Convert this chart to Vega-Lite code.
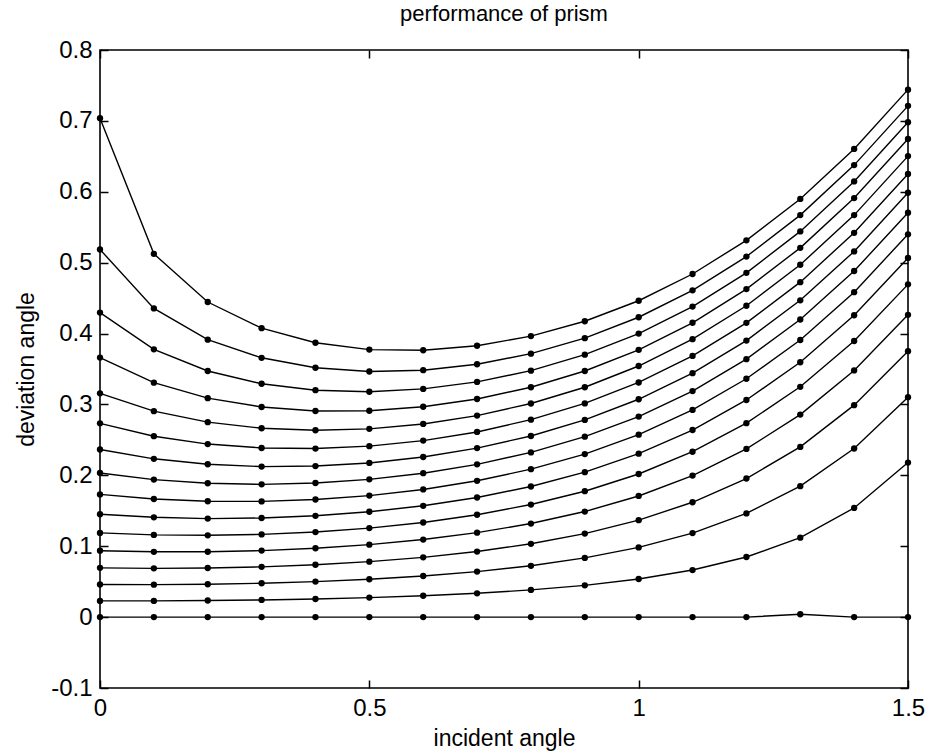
{
  "$schema": "https://vega.github.io/schema/vega-lite/v6.json",
  "width": 808,
  "height": 638,
  "autosize": {"type": "none"},
  "padding": {"left": 100, "top": 50, "right": 21, "bottom": 65},
  "title": {"text": "performance of prism", "font": "Liberation Sans", "fontSize": 22, "fontWeight": "normal", "color": "#000", "baseline": "alphabetic", "offset": -5},
  "data": {"values": [
    {"curve":0,"incident":0,"deviation":0},{"curve":0,"incident":0.1,"deviation":0},{"curve":0,"incident":0.2,"deviation":0},{"curve":0,"incident":0.3,"deviation":0},{"curve":0,"incident":0.4,"deviation":0},{"curve":0,"incident":0.5,"deviation":0},{"curve":0,"incident":0.6,"deviation":0},{"curve":0,"incident":0.7,"deviation":0},{"curve":0,"incident":0.8,"deviation":0},{"curve":0,"incident":0.9,"deviation":0},{"curve":0,"incident":1.0,"deviation":0},{"curve":0,"incident":1.1,"deviation":0},{"curve":0,"incident":1.2,"deviation":0},{"curve":0,"incident":1.3,"deviation":0.004},{"curve":0,"incident":1.4,"deviation":0},{"curve":0,"incident":1.5,"deviation":0},
    {"curve":1,"incident":0,"deviation":0.0229},{"curve":1,"incident":0.1,"deviation":0.0229},{"curve":1,"incident":0.2,"deviation":0.0234},{"curve":1,"incident":0.3,"deviation":0.0242},{"curve":1,"incident":0.4,"deviation":0.0256},{"curve":1,"incident":0.5,"deviation":0.0275},{"curve":1,"incident":0.6,"deviation":0.0301},{"curve":1,"incident":0.7,"deviation":0.0336},{"curve":1,"incident":0.8,"deviation":0.0384},{"curve":1,"incident":0.9,"deviation":0.0448},{"curve":1,"incident":1.0,"deviation":0.0538},{"curve":1,"incident":1.1,"deviation":0.0664},{"curve":1,"incident":1.2,"deviation":0.0848},{"curve":1,"incident":1.3,"deviation":0.1121},{"curve":1,"incident":1.4,"deviation":0.154},{"curve":1,"incident":1.5,"deviation":0.218},
    {"curve":2,"incident":0,"deviation":0.046},{"curve":2,"incident":0.1,"deviation":0.0458},{"curve":2,"incident":0.2,"deviation":0.0464},{"curve":2,"incident":0.3,"deviation":0.0478},{"curve":2,"incident":0.4,"deviation":0.0501},{"curve":2,"incident":0.5,"deviation":0.0534},{"curve":2,"incident":0.6,"deviation":0.058},{"curve":2,"incident":0.7,"deviation":0.0642},{"curve":2,"incident":0.8,"deviation":0.0724},{"curve":2,"incident":0.9,"deviation":0.0835},{"curve":2,"incident":1.0,"deviation":0.0983},{"curve":2,"incident":1.1,"deviation":0.1185},{"curve":2,"incident":1.2,"deviation":0.1463},{"curve":2,"incident":1.3,"deviation":0.1847},{"curve":2,"incident":1.4,"deviation":0.2379},{"curve":2,"incident":1.5,"deviation":0.3103},
    {"curve":3,"incident":0,"deviation":0.0695},{"curve":3,"incident":0.1,"deviation":0.0688},{"curve":3,"incident":0.2,"deviation":0.0693},{"curve":3,"incident":0.3,"deviation":0.0709},{"curve":3,"incident":0.4,"deviation":0.0739},{"curve":3,"incident":0.5,"deviation":0.0782},{"curve":3,"incident":0.6,"deviation":0.0843},{"curve":3,"incident":0.7,"deviation":0.0925},{"curve":3,"incident":0.8,"deviation":0.1034},{"curve":3,"incident":0.9,"deviation":0.1178},{"curve":3,"incident":1.0,"deviation":0.1368},{"curve":3,"incident":1.1,"deviation":0.162},{"curve":3,"incident":1.2,"deviation":0.1955},{"curve":3,"incident":1.3,"deviation":0.2401},{"curve":3,"incident":1.4,"deviation":0.299},{"curve":3,"incident":1.5,"deviation":0.3752},
    {"curve":4,"incident":0,"deviation":0.0937},{"curve":4,"incident":0.1,"deviation":0.0921},{"curve":4,"incident":0.2,"deviation":0.0922},{"curve":4,"incident":0.3,"deviation":0.0938},{"curve":4,"incident":0.4,"deviation":0.0971},{"curve":4,"incident":0.5,"deviation":0.1022},{"curve":4,"incident":0.6,"deviation":0.1094},{"curve":4,"incident":0.7,"deviation":0.1191},{"curve":4,"incident":0.8,"deviation":0.132},{"curve":4,"incident":0.9,"deviation":0.1489},{"curve":4,"incident":1.0,"deviation":0.1709},{"curve":4,"incident":1.1,"deviation":0.1997},{"curve":4,"incident":1.2,"deviation":0.2372},{"curve":4,"incident":1.3,"deviation":0.2857},{"curve":4,"incident":1.4,"deviation":0.348},{"curve":4,"incident":1.5,"deviation":0.4264},
    {"curve":5,"incident":0,"deviation":0.1188},{"curve":5,"incident":0.1,"deviation":0.116},{"curve":5,"incident":0.2,"deviation":0.1154},{"curve":5,"incident":0.3,"deviation":0.1167},{"curve":5,"incident":0.4,"deviation":0.12},{"curve":5,"incident":0.5,"deviation":0.1256},{"curve":5,"incident":0.6,"deviation":0.1335},{"curve":5,"incident":0.7,"deviation":0.1444},{"curve":5,"incident":0.8,"deviation":0.1588},{"curve":5,"incident":0.9,"deviation":0.1776},{"curve":5,"incident":1.0,"deviation":0.2019},{"curve":5,"incident":1.1,"deviation":0.2333},{"curve":5,"incident":1.2,"deviation":0.2736},{"curve":5,"incident":1.3,"deviation":0.3249},{"curve":5,"incident":1.4,"deviation":0.3895},{"curve":5,"incident":1.5,"deviation":0.4694},
    {"curve":6,"incident":0,"deviation":0.1451},{"curve":6,"incident":0.1,"deviation":0.1408},{"curve":6,"incident":0.2,"deviation":0.139},{"curve":6,"incident":0.3,"deviation":0.1398},{"curve":6,"incident":0.4,"deviation":0.1429},{"curve":6,"incident":0.5,"deviation":0.1486},{"curve":6,"incident":0.6,"deviation":0.157},{"curve":6,"incident":0.7,"deviation":0.1687},{"curve":6,"incident":0.8,"deviation":0.1842},{"curve":6,"incident":0.9,"deviation":0.2045},{"curve":6,"incident":1.0,"deviation":0.2306},{"curve":6,"incident":1.1,"deviation":0.2639},{"curve":6,"incident":1.2,"deviation":0.3063},{"curve":6,"incident":1.3,"deviation":0.3595},{"curve":6,"incident":1.4,"deviation":0.4258},{"curve":6,"incident":1.5,"deviation":0.5067},
    {"curve":7,"incident":0,"deviation":0.1731},{"curve":7,"incident":0.1,"deviation":0.1666},{"curve":7,"incident":0.2,"deviation":0.1634},{"curve":7,"incident":0.3,"deviation":0.1632},{"curve":7,"incident":0.4,"deviation":0.1659},{"curve":7,"incident":0.5,"deviation":0.1714},{"curve":7,"incident":0.6,"deviation":0.1801},{"curve":7,"incident":0.7,"deviation":0.1923},{"curve":7,"incident":0.8,"deviation":0.2087},{"curve":7,"incident":0.9,"deviation":0.23},{"curve":7,"incident":1.0,"deviation":0.2574},{"curve":7,"incident":1.1,"deviation":0.2923},{"curve":7,"incident":1.2,"deviation":0.3362},{"curve":7,"incident":1.3,"deviation":0.3909},{"curve":7,"incident":1.4,"deviation":0.4584},{"curve":7,"incident":1.5,"deviation":0.54},
    {"curve":8,"incident":0,"deviation":0.2033},{"curve":8,"incident":0.1,"deviation":0.194},{"curve":8,"incident":0.2,"deviation":0.1888},{"curve":8,"incident":0.3,"deviation":0.1873},{"curve":8,"incident":0.4,"deviation":0.1892},{"curve":8,"incident":0.5,"deviation":0.1943},{"curve":8,"incident":0.6,"deviation":0.203},{"curve":8,"incident":0.7,"deviation":0.2155},{"curve":8,"incident":0.8,"deviation":0.2323},{"curve":8,"incident":0.9,"deviation":0.2545},{"curve":8,"incident":1.0,"deviation":0.2829},{"curve":8,"incident":1.1,"deviation":0.3189},{"curve":8,"incident":1.2,"deviation":0.3639},{"curve":8,"incident":1.3,"deviation":0.4198},{"curve":8,"incident":1.4,"deviation":0.4882},{"curve":8,"incident":1.5,"deviation":0.5704},
    {"curve":9,"incident":0,"deviation":0.2364},{"curve":9,"incident":0.1,"deviation":0.2233},{"curve":9,"incident":0.2,"deviation":0.2156},{"curve":9,"incident":0.3,"deviation":0.2123},{"curve":9,"incident":0.4,"deviation":0.2131},{"curve":9,"incident":0.5,"deviation":0.2175},{"curve":9,"incident":0.6,"deviation":0.2259},{"curve":9,"incident":0.7,"deviation":0.2384},{"curve":9,"incident":0.8,"deviation":0.2555},{"curve":9,"incident":0.9,"deviation":0.2782},{"curve":9,"incident":1.0,"deviation":0.3073},{"curve":9,"incident":1.1,"deviation":0.3441},{"curve":9,"incident":1.2,"deviation":0.3901},{"curve":9,"incident":1.3,"deviation":0.4469},{"curve":9,"incident":1.4,"deviation":0.5159},{"curve":9,"incident":1.5,"deviation":0.5986},
    {"curve":10,"incident":0,"deviation":0.2733},{"curve":10,"incident":0.1,"deviation":0.2552},{"curve":10,"incident":0.2,"deviation":0.2441},{"curve":10,"incident":0.3,"deviation":0.2386},{"curve":10,"incident":0.4,"deviation":0.2378},{"curve":10,"incident":0.5,"deviation":0.2412},{"curve":10,"incident":0.6,"deviation":0.249},{"curve":10,"incident":0.7,"deviation":0.2612},{"curve":10,"incident":0.8,"deviation":0.2785},{"curve":10,"incident":0.9,"deviation":0.3014},{"curve":10,"incident":1.0,"deviation":0.331},{"curve":10,"incident":1.1,"deviation":0.3684},{"curve":10,"incident":1.2,"deviation":0.4151},{"curve":10,"incident":1.3,"deviation":0.4725},{"curve":10,"incident":1.4,"deviation":0.5421},{"curve":10,"incident":1.5,"deviation":0.6251},
    {"curve":11,"incident":0,"deviation":0.3157},{"curve":11,"incident":0.1,"deviation":0.2905},{"curve":11,"incident":0.2,"deviation":0.275},{"curve":11,"incident":0.3,"deviation":0.2664},{"curve":11,"incident":0.4,"deviation":0.2636},{"curve":11,"incident":0.5,"deviation":0.2656},{"curve":11,"incident":0.6,"deviation":0.2725},{"curve":11,"incident":0.7,"deviation":0.2843},{"curve":11,"incident":0.8,"deviation":0.3013},{"curve":11,"incident":0.9,"deviation":0.3243},{"curve":11,"incident":1.0,"deviation":0.3542},{"curve":11,"incident":1.1,"deviation":0.3921},{"curve":11,"incident":1.2,"deviation":0.4392},{"curve":11,"incident":1.3,"deviation":0.4971},{"curve":11,"incident":1.4,"deviation":0.5671},{"curve":11,"incident":1.5,"deviation":0.6503},
    {"curve":12,"incident":0,"deviation":0.3661},{"curve":12,"incident":0.1,"deviation":0.3307},{"curve":12,"incident":0.2,"deviation":0.3089},{"curve":12,"incident":0.3,"deviation":0.2964},{"curve":12,"incident":0.4,"deviation":0.2908},{"curve":12,"incident":0.5,"deviation":0.2911},{"curve":12,"incident":0.6,"deviation":0.2967},{"curve":12,"incident":0.7,"deviation":0.3077},{"curve":12,"incident":0.8,"deviation":0.3243},{"curve":12,"incident":0.9,"deviation":0.3472},{"curve":12,"incident":1.0,"deviation":0.3771},{"curve":12,"incident":1.1,"deviation":0.4152},{"curve":12,"incident":1.2,"deviation":0.4627},{"curve":12,"incident":1.3,"deviation":0.5209},{"curve":12,"incident":1.4,"deviation":0.5911},{"curve":12,"incident":1.5,"deviation":0.6745},
    {"curve":13,"incident":0,"deviation":0.4296},{"curve":13,"incident":0.1,"deviation":0.3778},{"curve":13,"incident":0.2,"deviation":0.3472},{"curve":13,"incident":0.3,"deviation":0.3292},{"curve":13,"incident":0.4,"deviation":0.3201},{"curve":13,"incident":0.5,"deviation":0.3179},{"curve":13,"incident":0.6,"deviation":0.3219},{"curve":13,"incident":0.7,"deviation":0.3318},{"curve":13,"incident":0.8,"deviation":0.3477},{"curve":13,"incident":0.9,"deviation":0.3702},{"curve":13,"incident":1.0,"deviation":0.4},{"curve":13,"incident":1.1,"deviation":0.4381},{"curve":13,"incident":1.2,"deviation":0.4857},{"curve":13,"incident":1.3,"deviation":0.5441},{"curve":13,"incident":1.4,"deviation":0.6146},{"curve":13,"incident":1.5,"deviation":0.6981},
    {"curve":14,"incident":0,"deviation":0.5186},{"curve":14,"incident":0.1,"deviation":0.4354},{"curve":14,"incident":0.2,"deviation":0.3914},{"curve":14,"incident":0.3,"deviation":0.3658},{"curve":14,"incident":0.4,"deviation":0.3518},{"curve":14,"incident":0.5,"deviation":0.3465},{"curve":14,"incident":0.6,"deviation":0.3483},{"curve":14,"incident":0.7,"deviation":0.3567},{"curve":14,"incident":0.8,"deviation":0.3716},{"curve":14,"incident":0.9,"deviation":0.3935},{"curve":14,"incident":1.0,"deviation":0.423},{"curve":14,"incident":1.1,"deviation":0.461},{"curve":14,"incident":1.2,"deviation":0.5086},{"curve":14,"incident":1.3,"deviation":0.5671},{"curve":14,"incident":1.4,"deviation":0.6376},{"curve":14,"incident":1.5,"deviation":0.7212},
    {"curve":15,"incident":0,"deviation":0.7037},{"curve":15,"incident":0.1,"deviation":0.5124},{"curve":15,"incident":0.2,"deviation":0.4445},{"curve":15,"incident":0.3,"deviation":0.4076},{"curve":15,"incident":0.4,"deviation":0.387},{"curve":15,"incident":0.5,"deviation":0.3774},{"curve":15,"incident":0.6,"deviation":0.3764},{"curve":15,"incident":0.7,"deviation":0.3828},{"curve":15,"incident":0.8,"deviation":0.3964},{"curve":15,"incident":0.9,"deviation":0.4174},{"curve":15,"incident":1.0,"deviation":0.4463},{"curve":15,"incident":1.1,"deviation":0.484},{"curve":15,"incident":1.2,"deviation":0.5315},{"curve":15,"incident":1.3,"deviation":0.5899},{"curve":15,"incident":1.4,"deviation":0.6605},{"curve":15,"incident":1.5,"deviation":0.7441}
  ]},
  "layer": [
    {
      "mark": {"type": "line", "color": "#000", "strokeWidth": 1.4, "clip": false},
      "encoding": {
        "x": {"field": "incident", "type": "quantitative", "scale": {"domain": [0, 1.5], "nice": false, "zero": false},
          "axis": {"orient": "bottom", "values": [0, 0.5, 1, 1.5], "format": "~g", "title": "incident angle", "labelPadding": 16, "titlePadding": 7}},
        "y": {"field": "deviation", "type": "quantitative", "scale": {"domain": [-0.1, 0.8], "nice": false, "zero": false},
          "axis": {"orient": "left", "values": [-0.1, 0, 0.1, 0.2, 0.3, 0.4, 0.5, 0.6, 0.7, 0.8], "labelExpr": "replace(format(datum.value, '.1~f'), '\u2212', '-')", "title": "deviation angle", "labelPadding": 16, "titlePadding": 12}},
        "detail": {"field": "curve", "type": "nominal"}
      }
    },
    {
      "mark": {"type": "point", "filled": true, "color": "#000", "opacity": 1, "size": 40, "clip": false},
      "encoding": {
        "x": {"field": "incident", "type": "quantitative", "scale": {"domain": [0, 1.5], "nice": false, "zero": false},
          "axis": {"orient": "top", "values": [0, 0.5, 1, 1.5], "labels": false, "title": null}},
        "y": {"field": "deviation", "type": "quantitative", "scale": {"domain": [-0.1, 0.8], "nice": false, "zero": false},
          "axis": {"orient": "right", "values": [-0.1, 0, 0.1, 0.2, 0.3, 0.4, 0.5, 0.6, 0.7, 0.8], "labels": false, "title": null}},
        "detail": {"field": "curve", "type": "nominal"}
      }
    }
  ],
  "resolve": {"axis": {"x": "independent", "y": "independent"}},
  "config": {
    "background": "#ffffff",
    "view": {"stroke": "#000", "strokeWidth": 1.6},
    "axis": {
      "domain": false,
      "grid": false,
      "ticks": true,
      "tickSize": -8,
      "tickColor": "#000",
      "tickWidth": 1.5,
      "labelFont": "Liberation Sans",
      "labelFontSize": 24,
      "labelColor": "#000",
      "labelFlush": false,
      "labelOverlap": false,
      "titleFont": "Liberation Sans",
      "titleFontSize": 23,
      "titleFontWeight": "normal",
      "titleColor": "#000"
    }
  }
}
